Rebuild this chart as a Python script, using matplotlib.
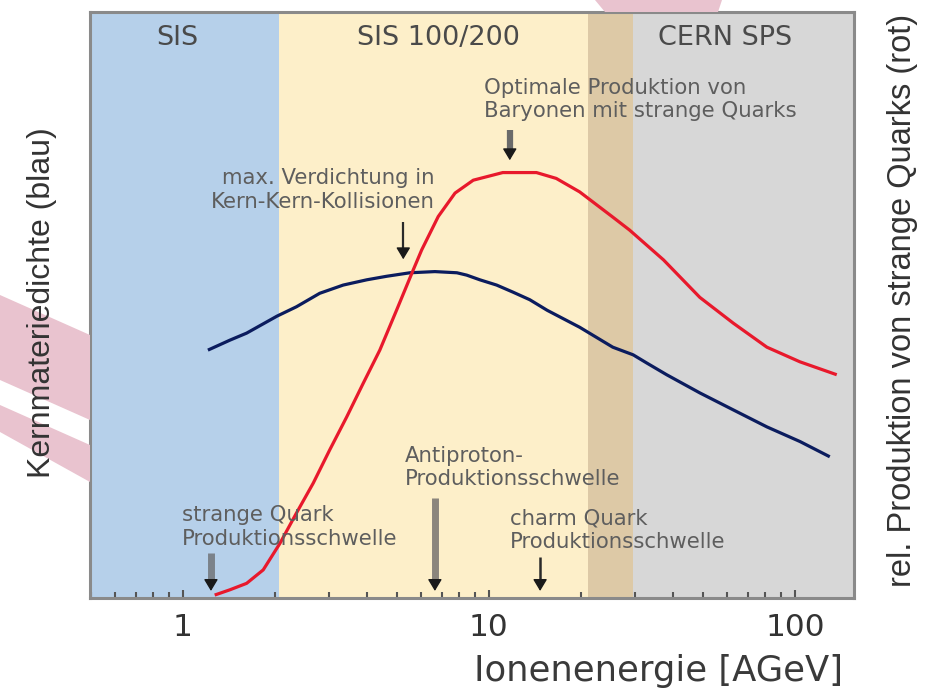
import matplotlib.pyplot as plt
from matplotlib.patches import Polygon
from matplotlib.ticker import LogLocator, NullFormatter, FixedLocator

plt.rcParams['font.family'] = ['DejaVu Sans']

# Bereiche der Beschleuniger (AGeV)
region_names = ["SIS", "SIS 100/200", "", "CERN SPS"]
region_start = [0.497, 2.06, 21.0, 29.5]
region_end = [2.06, 21.0, 29.5, 156.0]
region_colors = ["#b6d0ea", "#fdefc9", "#ddc9a6", "#d7d7d7"]
region_label_x = [0.956, 6.86, 0, 59.3]

# Kernmateriedichte (blau)
dichte_energie = [1.207, 1.424, 1.615, 2.03, 2.35, 2.80, 3.34, 3.99, 4.63, 5.52,
                  6.66, 7.86, 8.46, 9.34, 10.6, 11.98, 13.6, 15.5, 19.8, 25.4,
                  29.6, 32.8, 38.1, 48.9, 62.9, 81.0, 103.9, 130.0]
dichte_wert = [0.423, 0.440, 0.452, 0.481, 0.497, 0.520, 0.534, 0.543, 0.549, 0.555,
               0.557, 0.555, 0.551, 0.543, 0.534, 0.522, 0.509, 0.491, 0.462, 0.428,
               0.415, 0.401, 0.381, 0.350, 0.321, 0.292, 0.267, 0.241]

# rel. Produktion strange Quarks (rot)
strange_energie = [1.27, 1.424, 1.615, 1.83, 2.074, 2.35, 2.666, 3.02, 3.43, 3.88,
                   4.40, 4.99, 5.66, 6.03, 6.83, 7.75, 8.89, 11.1, 14.3, 16.6,
                   19.8, 25.4, 28.8, 37.2, 48.9, 62.9, 81.0, 103.9, 137.0]
strange_wert = [0.005, 0.014, 0.025, 0.048, 0.093, 0.145, 0.196, 0.253, 0.309, 0.366,
                0.423, 0.491, 0.560, 0.594, 0.651, 0.691, 0.713, 0.726, 0.726, 0.716,
                0.693, 0.650, 0.628, 0.577, 0.513, 0.469, 0.428, 0.403, 0.381]

# Pfeile mit Beschriftung
pfeil_text = ["strange Quark\nProduktionsschwelle",
              "Antiproton-\nProduktionsschwelle",
              "charm Quark\nProduktionsschwelle",
              "max. Verdichtung in\nKern-Kern-Kollisionen",
              "Optimale Produktion von\nBaryonen mit strange Quarks"]
pfeil_text_x = [0.993, 5.31, 11.7, 6.66, 9.64]
pfeil_text_y = [0.158, 0.260, 0.153, 0.733, 0.888]
pfeil_ha = ["left", "left", "left", "right", "left"]
pfeil_x = [1.235, 6.66, 14.7, 5.25, 11.7]
pfeil_y0 = [0.077, 0.171, 0.070, 0.642, 0.799]
pfeil_y1 = [0.012, 0.012, 0.012, 0.578, 0.747]
pfeil_schaft = ["#7b828a", "#8b857c", "#2a2a2a", "#2a2a2a", "#6a6a6a"]
pfeil_breite = [5.0, 5.0, 1.8, 1.6, 4.5]

fig = plt.figure(figsize=(9.34, 6.9), dpi=100)
ax = fig.add_axes([90 / 934, 92 / 690, 764 / 934, 586 / 690])

# Hintergrund-Logo (rosa)
def px(pts):
    return [(x / 934, 1 - y / 690) for x, y in pts]

for pts in [[(595, 0), (722, 0), (718, 12), (605, 12)],
            [(0, 295), (90, 335), (90, 420), (0, 380)],
            [(0, 405), (90, 445), (90, 482), (0, 432)]]:
    fig.patches.append(Polygon(px(pts), closed=True, transform=fig.transFigure,
                               facecolor="#e9c3cf", edgecolor="none", zorder=0))

for a, b, c in zip(region_start, region_end, region_colors):
    ax.axvspan(a, b, color=c, lw=0, zorder=0)
for name, lx in zip(region_names, region_label_x):
    if name:
        ax.text(lx, 0.956, name, ha="center", va="center", fontsize=19.5,
                color="#4a4a4a")

ax.plot(dichte_energie, dichte_wert, color="#0b1c5e", lw=2.3, zorder=3,
        solid_capstyle="butt")
ax.plot(strange_energie, strange_wert, color="#e8192c", lw=2.3, zorder=3,
        solid_capstyle="butt")

kopf = 0.017
for t, tx, ty, ha, x, y0, y1, sc, sb in zip(pfeil_text, pfeil_text_x, pfeil_text_y,
                                            pfeil_ha, pfeil_x, pfeil_y0, pfeil_y1,
                                            pfeil_schaft, pfeil_breite):
    ax.text(tx, ty, t, ha=ha, va="top", fontsize=15.3, color="#5e5e5e",
            linespacing=1.2, zorder=4)
    ax.plot([x, x], [y0, y1 + kopf * 0.8], color=sc, lw=sb, zorder=4,
            solid_capstyle="butt")
    ax.annotate("", xy=(x, y1), xytext=(x, y1 + kopf),
                arrowprops=dict(arrowstyle="-|>,head_width=0.33,head_length=0.55",
                                color="#1a1a1a", lw=1, mutation_scale=13,
                                shrinkA=0, shrinkB=0),
                zorder=5)

ax.set_xscale("log")
ax.set_xlim(0.497, 156)
ax.set_ylim(0, 1)
ax.xaxis.set_major_locator(FixedLocator([1, 10, 100]))
ax.set_xticklabels(["1", "10", "100"])
ax.xaxis.set_minor_locator(LogLocator(base=10, subs=range(2, 10)))
ax.xaxis.set_minor_formatter(NullFormatter())
ax.set_yticks([])
ax.tick_params(axis="x", which="both", direction="in", color="#555555",
               width=1.5, labelsize=22.5, labelcolor="#333333", pad=11)
ax.tick_params(axis="x", which="major", length=6)
ax.tick_params(axis="x", which="minor", length=4.5)
for s in ax.spines.values():
    s.set_color("#8a8a8a")
    s.set_linewidth(2.2)

ax.set_xlabel("Ionenenergie [AGeV]", fontsize=25.5, color="#3a3a3a", va="baseline")
ax.xaxis.set_label_coords((659 - 90) / 764, (598 - 681) / 586)
fig.text(42 / 934, 1 - 303 / 690, "Kernmateriedichte (blau)", rotation=90,
         ha="center", va="center", fontsize=23, color="#333333",
         family=["Liberation Sans", "DejaVu Sans"])
fig.text(903 / 934, 1 - 300 / 690, "rel. Produktion von strange Quarks (rot)",
         rotation=90, ha="center", va="center", fontsize=23.5, color="#333333",
         family=["Liberation Sans", "DejaVu Sans"])

fig.savefig("out.png", dpi=100)
